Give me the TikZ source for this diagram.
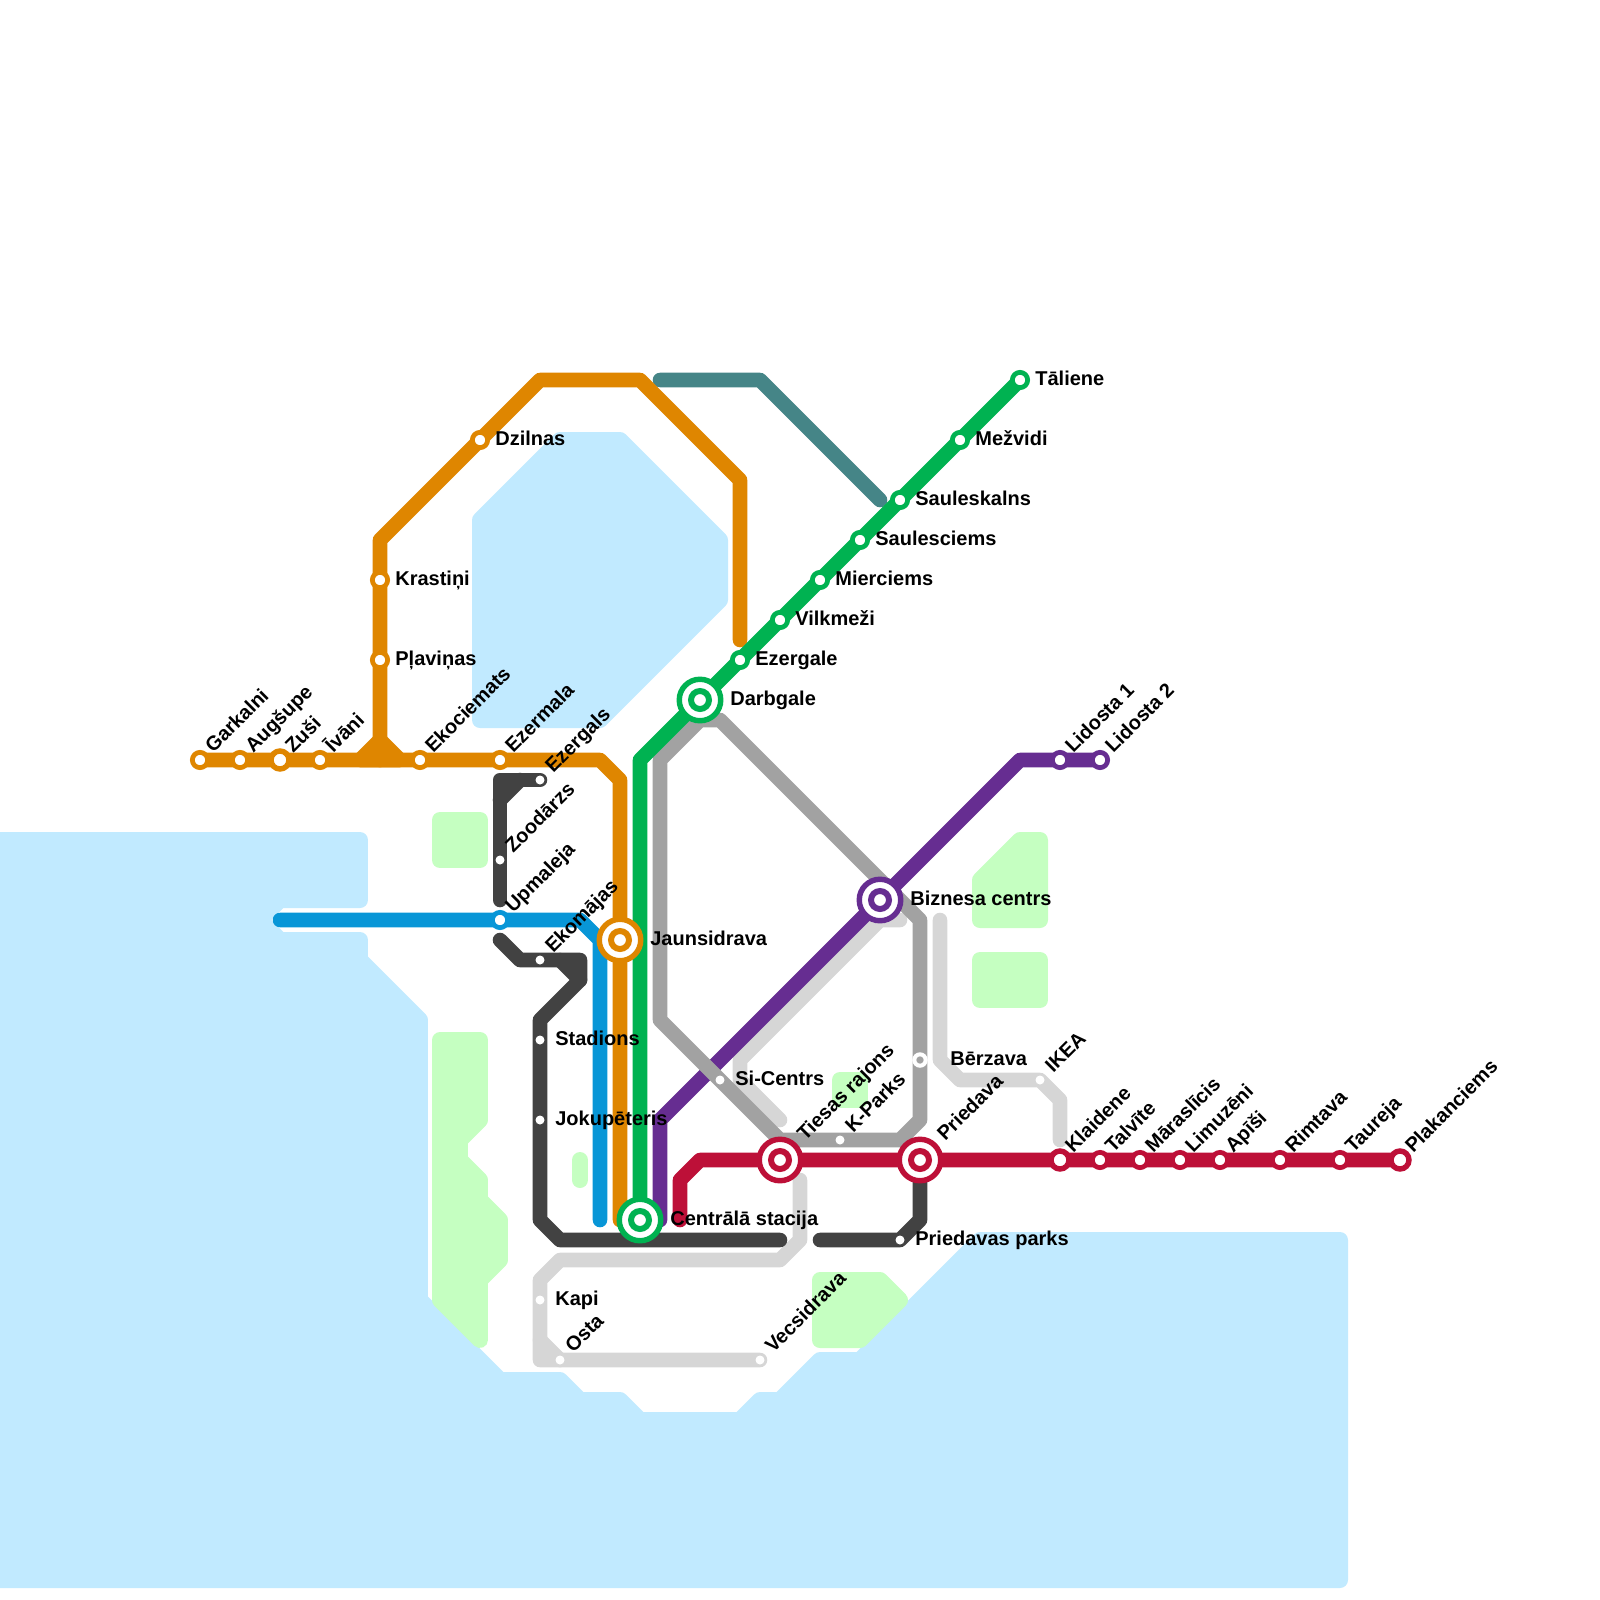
\documentclass[tikz,border=0pt]{standalone}
\usepackage{fontspec}
\setmainfont{Liberation Sans}
\usetikzlibrary{calc}

\definecolor{waterblue}{HTML}{C1EAFF}
\definecolor{parkgreen}{HTML}{C5FFC1}
\definecolor{lineorange}{HTML}{DF8600}
\definecolor{linedark}{HTML}{424242}
\definecolor{lineblue}{HTML}{0896D7}
\definecolor{linegreen}{HTML}{00B251}
\definecolor{linegrey}{HTML}{A2A2A2}
\definecolor{linelight}{HTML}{D6D6D6}
\definecolor{linepurple}{HTML}{662D91}
\definecolor{linered}{HTML}{BD1038}
\definecolor{lineteal}{HTML}{458587}

\tikzset{
  metro/.style={line width=8.3pt, line cap=round, line join=round},
  water/.style={fill=waterblue, draw=waterblue, line width=9.1pt, line join=round},
  park/.style={fill=parkgreen, draw=parkgreen, line width=9.1pt, line join=round, line cap=round},
  ringstop/.style={circle, fill=white, inner sep=0pt, minimum size=0.306cm, line width=2.7pt},
  bigstop/.style={circle, fill=white, inner sep=0pt, minimum size=0.36cm, line width=3.1pt},
  dotstop/.style={circle, fill=white, inner sep=0pt, minimum size=0.18cm},
  hubring/.style={circle, fill=white, inner sep=0pt, minimum size=0.83cm, line width=3.1pt},
  hubcore/.style={circle, fill=white, inner sep=0pt, minimum size=0.36cm, line width=3.4pt},
  sidelabel/.style={anchor=base west, inner sep=0pt, font=\fontsize{11.38}{13}\selectfont\bfseries},
  slantlabel/.style={sidelabel, rotate=45}
}

\begin{document}
\begin{tikzpicture}[x=0.02cm, y=-0.02cm]
  \useasboundingbox (0,0) rectangle (1600,1600);

  % ---------- water ----------
  \draw[water] (-20,840) -- (360,840) -- (360,900) -- (280,900) -- (260,920) -- (280,940) -- (360,940)
    -- (360,960) -- (420,1020) -- (420,1300) -- (500,1380) -- (560,1380) -- (580,1400) -- (620,1400)
    -- (640,1420) -- (740,1420) -- (760,1400) -- (780,1400) -- (820,1360) -- (860,1360) -- (980,1240)
    -- (1340,1240) -- (1340,1580) -- (-20,1580) -- cycle;
  \draw[water] (480,520) -- (560,440) -- (620,440) -- (720,540) -- (720,600) -- (600,720) -- (480,720) -- cycle;

  % ---------- parks ----------
  \draw[park] (440,820) rectangle (480,860);
  \draw[park] (440,1040) -- (480,1040) -- (480,1120) -- (460,1140) -- (460,1160) -- (480,1180) -- (480,1200)
    -- (500,1220) -- (500,1260) -- (480,1280) -- (480,1340) -- (440,1300) -- cycle;
  \draw[park] (580,1160) -- (580,1180);
  \draw[park] (840,1080) rectangle (860,1100);
  \draw[park] (980,880) -- (1020,840) -- (1040,840) -- (1040,920) -- (980,920) -- cycle;
  \draw[park] (980,960) rectangle (1040,1000);
  \draw[park] (820,1280) -- (880,1280) -- (900,1300) -- (860,1340) -- (820,1340) -- cycle;

  % ---------- station positions ----------
  \foreach \id/\x/\y in {garkalni/200/760, augsupe/240/760, zusi/280/760, ivani/320/760, ekociemats/420/760,
      ezermala/500/760, krastini/380/580, plavinas/380/660, dzilnas/480/440, jaunsidrava/620/940,
      ezergals/540/780, zoodarzs/500/860, upmaleja/500/920, ekomajas/540/960, stadions/540/1040,
      jokupeteris/540/1120, kapi/540/1300, osta/560/1360, vecsidrava/760/1360, centrala/640/1220,
      darbgale/700/700, ezergale/740/660, vilkmezi/780/620, mierciems/820/580, saulesciems/860/540,
      sauleskalns/900/500, mezvidi/960/440, taliene/1020/380, biznesa/880/900, lidostaA/1060/760,
      lidostaB/1100/760, sicentrs/720/1080, tiesas/780/1160, kparks/840/1140, berzava/920/1060,
      priedava/920/1160, parks/900/1240, ikea/1040/1080, klaidene/1060/1160, talvite/1100/1160,
      maraslicis/1140/1160, limuzeni/1180/1160, apisi/1220/1160, rimtava/1280/1160, taureja/1340/1160,
      plakanciems/1400/1160}{
    \coordinate (\id) at (\x,\y);
  }

  % ---------- lines ----------
  \draw[metro, linelight] (800,1180) -- (800,1240) -- (780,1260) -- (560,1260) -- (540,1280) -- (kapi)
    -- (540,1360) -- (vecsidrava);
  \draw[metro, linelight] (540,1340) -- (osta);
  \draw[metro, linelight] (900,920) -- (880,920) -- (740,1060) -- (740,1080) -- (780,1120);
  \draw[metro, linelight] (940,920) -- (940,1060) -- (960,1080) -- (ikea) -- (1060,1100) -- (1060,1140);
  \draw[metro, lineteal] (660,380) -- (760,380) -- (880,500);
  \draw[metro, lineorange] (garkalni) -- (ezermala) -- (600,760) -- (620,780) -- (jaunsidrava) -- (620,1220);
  \draw[metro, lineorange] (380,760) -- (krastini) -- (380,540) -- (dzilnas) -- (540,380)
    -- (640,380) -- (740,480) -- (740,640);
  \draw[metro, lineorange] (360,760) -- (380,740) -- (400,760) -- cycle;
  \draw[metro, lineblue] (280,920) -- (upmaleja) -- (580,920) -- (600,940) -- (600,1220);
  \draw[metro, linedark] (ezergals) -- (500,780) -- (zoodarzs) -- (500,900);
  \draw[metro, linedark] (520,780) -- (500,800);
  \draw[metro, linedark] (500,940) -- (520,960) -- (ekomajas) -- (580,960) -- (580,980) -- (540,1020) -- (stadions)
    -- (jokupeteris) -- (540,1220) -- (560,1240) -- (780,1240);
  \draw[metro, linedark] (560,960) -- (580,980);
  \draw[metro, linedark] (priedava) -- (920,1220) -- (parks) -- (820,1240);
  \draw[metro, linepurple] (660,1220) -- (660,1120) -- (biznesa) -- (1020,760) -- (lidostaB);
  \draw[metro, linegrey] (720,720) -- (700,720) -- (660,760) -- (660,1020) -- (sicentrs) -- (780,1140) -- (kparks)
    -- (900,1140) -- (920,1120) -- (berzava) -- (920,920) -- (880,880) -- cycle;
  \draw[metro, linered] (680,1220) -- (680,1180) -- (700,1160) -- (plakanciems);
  \draw[metro, linegreen] (centrala) -- (640,760) -- (taliene);

  % ---------- stops ----------
  \foreach \id in {garkalni,augsupe,ivani,ekociemats,ezermala,krastini,plavinas,dzilnas}{
    \node[ringstop, draw=lineorange] (stop\id) at (\id) {};
  }
  \node[bigstop, draw=lineorange] (stopzusi) at (zusi) {};
  \node[ringstop, draw=lineblue] (stopupmaleja) at (upmaleja) {};
  \foreach \id in {ezergale,vilkmezi,mierciems,saulesciems,sauleskalns,mezvidi,taliene}{
    \node[ringstop, draw=linegreen] (stop\id) at (\id) {};
  }
  \foreach \id in {lidostaA,lidostaB}{
    \node[ringstop, draw=linepurple] (stop\id) at (\id) {};
  }
  \foreach \id in {talvite,maraslicis,limuzeni,apisi,rimtava,taureja}{
    \node[ringstop, draw=linered] (stop\id) at (\id) {};
  }
  \foreach \id in {klaidene,plakanciems}{
    \node[bigstop, draw=linered] (stop\id) at (\id) {};
  }
  \foreach \id in {ezergals,zoodarzs,ekomajas,stadions,jokupeteris,parks,kapi,osta,vecsidrava,ikea,sicentrs,kparks}{
    \node[dotstop] (stop\id) at (\id) {};
  }
  \node[circle, fill=linegrey, draw=white, inner sep=0pt, minimum size=0.228cm, line width=2.3pt] (stopberzava) at (berzava) {};

  % ---------- interchanges ----------
  \foreach \id/\col in {jaunsidrava/lineorange, centrala/linegreen, darbgale/linegreen, biznesa/linepurple,
      tiesas/linered, priedava/linered}{
    \node[hubring, draw=\col] (hub\id) at (\id) {};
    \node[hubcore, draw=\col] (core\id) at (\id) {};
  }

  % ---------- labels ----------
  \foreach \id/\txt in {krastini/Krastiņi, plavinas/Pļaviņas, dzilnas/Dzilnas, stadions/Stadions,
      jokupeteris/Jokupēteris, kapi/Kapi, ezergale/Ezergale, vilkmezi/Vilkmeži, mierciems/Mierciems,
      saulesciems/Saulesciems, sauleskalns/Sauleskalns, mezvidi/Mežvidi, taliene/Tāliene,
      sicentrs/Si-Centrs, parks/Priedavas parks}{
    \node[sidelabel] (label\id) at ($(\id)+(15,5)$) {\txt};
  }
  \foreach \id/\txt in {jaunsidrava/Jaunsidrava, centrala/Centrālā stacija, darbgale/Darbgale,
      biznesa/Biznesa centrs, berzava/Bērzava}{
    \node[sidelabel] (label\id) at ($(\id)+(30,5)$) {\txt};
  }
  \foreach \id/\txt in {garkalni/Garkalni, augsupe/Augšupe, zusi/Zuši, ivani/Īvāni, ekociemats/Ekociemats,
      ezermala/Ezermala, ezergals/Ezergals, zoodarzs/Zoodārzs, upmaleja/Upmaleja, ekomajas/Ekomājas,
      osta/Osta, vecsidrava/Vecsidrava, lidostaA/Lidosta 1, lidostaB/Lidosta 2, kparks/K-Parks, ikea/IKEA,
      klaidene/Klaidene, talvite/Talvīte, maraslicis/Māraslīcis, limuzeni/Limuzēni, apisi/Apīši,
      rimtava/Rimtava, taureja/Taureja, plakanciems/Plakanciems}{
    \node[slantlabel] (label\id) at ($(\id)+(13,-6)$) {\txt};
  }
  \foreach \id/\txt in {tiesas/Tiesas rajons, priedava/Priedava}{
    \node[slantlabel] (label\id) at ($(\id)+(25,-18)$) {\txt};
  }
\end{tikzpicture}
\end{document}
